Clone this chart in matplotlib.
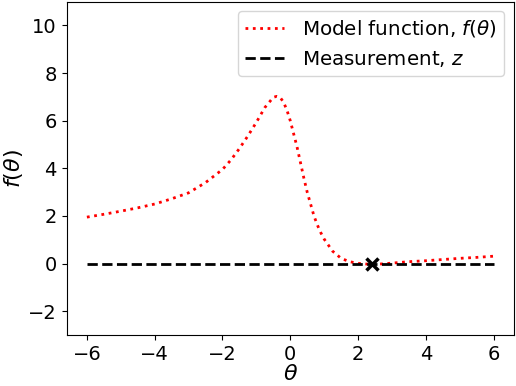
import matplotlib
matplotlib.use("Agg")
import matplotlib.pyplot as plt

theta = [-6, -5.5, -5, -4.5, -4, -3.5, -3, -2.5, -2, -1.75, -1.5, -1.25, -1, -0.75,
         -0.5, -0.4, -0.3, -0.2, -0.1, 0, 0.1, 0.2, 0.3, 0.4, 0.5, 0.6, 0.7, 0.8, 0.9,
         1, 1.25, 1.5, 1.75, 2, 2.25, 2.5, 2.75, 3, 3.5, 4, 4.5, 5, 5.5, 6]
f_theta = [1.95, 2.07, 2.2, 2.34, 2.5, 2.72, 2.97, 3.4, 3.95, 4.35, 4.83, 5.36, 5.93, 6.55,
           6.98, 7.02, 6.98, 6.78, 6.45, 6.0, 5.45, 4.9, 4.25, 3.6, 3.0, 2.5, 2.0, 1.62, 1.3,
           1.03, 0.52, 0.22, 0.08, 0.01, -0.02, -0.03, -0.01, 0.02, 0.08, 0.12, 0.17, 0.22, 0.26, 0.31]
z_x = [-6, 6]
z_val = [0, 0]
solution_theta = [2.4]
solution_f = [0]

fig = plt.figure(figsize=(5.16, 3.86), dpi=100)
ax = fig.add_axes([0.129, 0.132, 0.867, 0.864])
ax.plot(theta, f_theta, 'r:', lw=2, label=r'Model function, $f(\theta)$')
ax.plot(z_x, z_val, 'k--', lw=2, label=r'Measurement, $z$')
ax.plot(solution_theta, solution_f, 'kx', ms=8, mew=2.5)
ax.set_xlim(-6.6, 6.6)
ax.set_ylim(-3, 11)
ax.set_xlabel(r'$\theta$', fontsize=16, labelpad=0)
ax.set_ylabel(r'$f(\theta)$', fontsize=16, labelpad=2)
ax.tick_params(labelsize=14)
ax.legend(fontsize=14.3, loc='upper right', borderpad=0.35, handletextpad=0.9)
fig.savefig('out.png', dpi=100)
